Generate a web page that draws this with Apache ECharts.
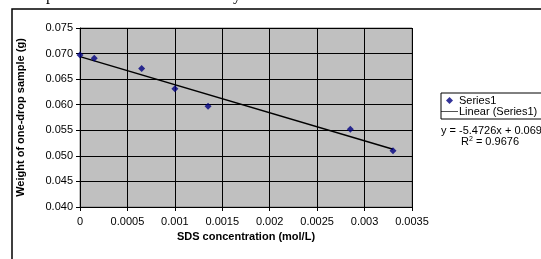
<!DOCTYPE html>
<html>
<head>
<meta charset="utf-8">
<script src="https://cdn.jsdelivr.net/npm/echarts@6/dist/echarts.min.js"></script>
<style>
  html, body { margin: 0; padding: 0; background: #fff; }
  #chart { width: 541px; height: 259px; }
</style>
</head>
<body>
<div id="chart"></div>
<script>
  const sdsConc = [0, 0.00015, 0.00065, 0.001, 0.00135, 0.00285, 0.0033];
  const dropWeight = [0.0697, 0.0691, 0.0671, 0.0631, 0.0597, 0.0552, 0.0510];
  const trendX = [0, 0.0033];
  const trendY = [0.0694, 0.0513];
  const xTickLabels = ["0", "0.0005", "0.001", "0.0015", "0.002", "0.0025", "0.003", "0.0035"];
  const yTickLabels = ["0.040", "0.045", "0.050", "0.055", "0.060", "0.065", "0.070", "0.075"];

  const font = "Liberation Sans, Arial, sans-serif";
  const chart = echarts.init(document.getElementById("chart"), null, { renderer: "canvas" });

  chart.setOption({
    animation: false,
    textStyle: { fontFamily: font },
    grid: { left: 80, top: 28, right: 129, bottom: 52, show: true, backgroundColor: "#c0c0c0", borderColor: "#808080", borderWidth: 1 },
    xAxis: {
      type: "value",
      min: 0, max: 0.0035, interval: 0.0005,
      name: "SDS concentration (mol/L)",
      nameLocation: "middle",
      nameGap: 24,
      nameTextStyle: { fontFamily: font, fontSize: 11, fontWeight: "bold", color: "#000" },
      axisLine: { show: true, onZero: false, lineStyle: { color: "#000", width: 1 } },
      axisTick: { show: true, length: 4, lineStyle: { color: "#000" } },
      axisLabel: {
        color: "#000", fontSize: 11, margin: 9, fontFamily: font,
        formatter: (v) => xTickLabels[Math.round(v / 0.0005)]
      },
      splitLine: { show: true, lineStyle: { color: "#000", width: 1 } }
    },
    yAxis: {
      type: "value",
      min: 0.04, max: 0.075, interval: 0.005,
      name: "Weight of one-drop sample (g)",
      nameLocation: "middle",
      nameGap: 54,
      nameTextStyle: { fontFamily: font, fontSize: 11, fontWeight: "bold", color: "#000" },
      axisLine: { show: true, onZero: false, lineStyle: { color: "#000", width: 1 } },
      axisTick: { show: true, length: 4, lineStyle: { color: "#000" } },
      axisLabel: {
        color: "#000", fontSize: 11, margin: 7, fontFamily: font,
        formatter: (v) => yTickLabels[Math.round((v - 0.04) / 0.005)]
      },
      splitLine: { show: true, lineStyle: { color: "#000", width: 1 } }
    },
    legend: {
      orient: "vertical",
      left: 441, top: 93,
      borderColor: "#000", borderWidth: 1,
      padding: [2, 40, 2, 0],
      itemGap: 0,
      itemWidth: 17, itemHeight: 7,
      symbolKeepAspect: true,
      textStyle: { fontFamily: font, fontSize: 11, color: "#000", padding: [0, 0, 0, -4] },
      data: [
        { name: "Series1", icon: "path://M0,5 L5,0 L10,5 L5,10 Z", itemStyle: { color: "#000080" } },
        { name: "Linear (Series1)", icon: "path://M0,0 L40,0 L40,1.6 L0,1.6 Z", itemStyle: { color: "#000" } }
      ]
    },
    graphic: [
      { type: "rect", shape: { x: 12, y: 9, width: 700, height: 400 }, style: { fill: "none", stroke: "#000", lineWidth: 1.5 }, silent: true },
      { type: "text", x: 46, y: -12, style: { text: "p", font: "16px Liberation Serif", fill: "#000" } },
      { type: "text", x: 233, y: -12, style: { text: "y", font: "16px Liberation Serif", fill: "#000" } },
      { type: "text", x: 441, y: 125, style: { text: "y = -5.4726x + 0.0694", font: "11px Liberation Sans", fill: "#000" } },
      {
        type: "text", x: 461, y: 136,
        style: {
          text: "R{sup|2} = 0.9676",
          font: "11px Liberation Sans", fill: "#000",
          rich: { sup: { fontSize: 7, verticalAlign: "top", padding: [0, 0, 5, 0], fontFamily: font } }
        }
      }
    ],
    series: [
      {
        name: "Series1",
        type: "scatter",
        symbol: "diamond",
        symbolSize: 7,
        itemStyle: { color: "#000080" },
        data: sdsConc.map((x, i) => [x, dropWeight[i]]),
        z: 3
      },
      {
        name: "Linear (Series1)",
        type: "line",
        symbol: "none",
        lineStyle: { color: "#000", width: 1.5 },
        itemStyle: { color: "#000" },
        data: trendX.map((x, i) => [x, trendY[i]]),
        z: 2
      }
    ]
  });
</script>
</body>
</html>
